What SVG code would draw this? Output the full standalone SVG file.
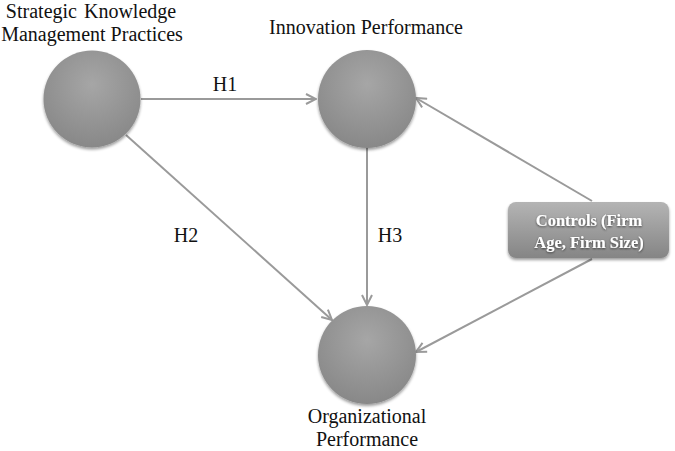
<svg xmlns="http://www.w3.org/2000/svg" width="675" height="451" viewBox="0 0 675 451">
<style>
.lbl{font-family:'Liberation Serif','Times New Roman','DejaVu Serif',serif;font-size:20px;fill:#111;text-anchor:middle}
.conn{stroke:#9a9a9a;stroke-width:2;fill:none;marker-end:url(#arr)}
.ctl{font-family:'Liberation Serif','Times New Roman','DejaVu Serif',serif;font-size:16.5px;font-weight:bold;fill:#fff;text-anchor:middle}
</style>
<defs>
<radialGradient id="cg" cx="0.5" cy="0.35" r="0.65">
<stop offset="0" stop-color="#a6a6a6"/>
<stop offset="1" stop-color="#888"/>
</radialGradient>
<linearGradient id="bg" x1="0" y1="0" x2="0" y2="1">
<stop offset="0" stop-color="#b4b4b4"/>
<stop offset="1" stop-color="#858585"/>
</linearGradient>
<filter id="sh" x="-20%" y="-20%" width="140%" height="140%">
<feGaussianBlur in="SourceAlpha" stdDeviation="1.5"/>
<feOffset dx="0" dy="1.5"/>
<feComponentTransfer><feFuncA type="linear" slope="0.4"/></feComponentTransfer>
<feMerge><feMergeNode/><feMergeNode in="SourceGraphic"/></feMerge>
</filter>
<filter id="ts"><feGaussianBlur in="SourceAlpha" stdDeviation="0.8"/><feOffset dy="1"/><feComponentTransfer><feFuncA type="linear" slope="0.6"/></feComponentTransfer><feMerge><feMergeNode/><feMergeNode in="SourceGraphic"/></feMerge></filter>
<marker id="arr" viewBox="0 0 12 12" refX="11" refY="6" markerWidth="12" markerHeight="12" markerUnits="userSpaceOnUse" orient="auto">
<path d="M1,1 L11,6 L1,11" fill="none" stroke="#9a9a9a" stroke-width="2"/>
</marker>
</defs>
<g id="connectors">
<line class="conn" x1="141" y1="99" x2="316" y2="99"/>
<line class="conn" x1="126" y1="135" x2="332" y2="320"/>
<line class="conn" x1="367" y1="148" x2="367" y2="305"/>
<line class="conn" x1="592" y1="201" x2="416" y2="98"/>
<line class="conn" x1="592" y1="259" x2="416" y2="352"/>
<text class="lbl" x="225" y="91">H1</text>
<text class="lbl" x="186" y="242">H2</text>
<text class="lbl" x="390" y="242">H3</text>
</g>
<g id="skmp">
<circle cx="92" cy="99" r="48.5" fill="url(#cg)" filter="url(#sh)"/>
<text class="lbl" x="91" y="18" style="word-spacing:2px">Strategic Knowledge</text>
<text class="lbl" x="92" y="41">Management Practices</text>
</g>
<g id="innovation">
<circle cx="367" cy="99" r="49" fill="url(#cg)" filter="url(#sh)"/>
<text class="lbl" x="366" y="34">Innovation Performance</text>
</g>
<g id="organizational">
<circle cx="367" cy="355" r="49" fill="url(#cg)" filter="url(#sh)"/>
<text class="lbl" x="367" y="423">Organizational</text>
<text class="lbl" x="367" y="446">Performance</text>
</g>
<g id="controls">
<rect x="508" y="202" width="161" height="56" rx="8" fill="url(#bg)" filter="url(#sh)"/>
<g filter="url(#ts)">
<text class="ctl" x="589" y="226">Controls (Firm</text>
<text class="ctl" x="589" y="248">Age, Firm Size)</text>
</g>
</g>
</svg>
